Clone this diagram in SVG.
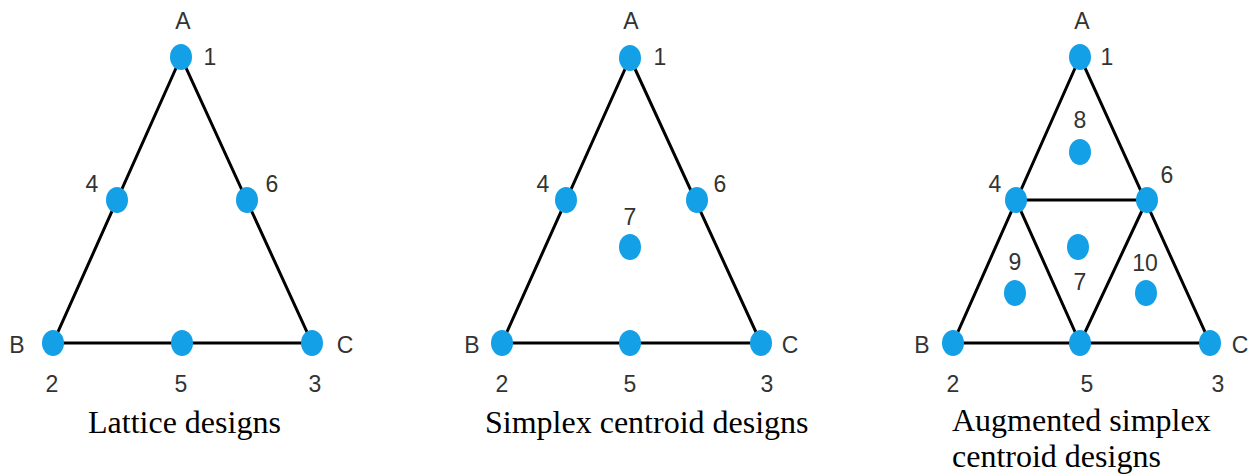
<svg xmlns="http://www.w3.org/2000/svg" width="1256" height="476" viewBox="0 0 1256 476">
<style>
.e{stroke:#000;stroke-width:3;fill:none}
.d{fill:#14a0e6}
.l{font-family:"Liberation Sans Narrow","Liberation Sans",Arial,sans-serif;font-size:23px;fill:#333;text-anchor:middle}
.t{font-family:"Liberation Serif","Times New Roman",serif;font-size:32px;fill:#000}
</style>
<rect width="1256" height="476" fill="#fff"/>
<g id="connectors">
<path class="e" d="M181,57 L53,343 L312,343 Z"/>
<path class="e" d="M630,58 L502,343 L761,343 Z"/>
<path class="e" d="M1080,57 L953,343 L1210,343 Z M1016,200 L1147,200 M1016,200 L1080,343 L1147,200"/>
</g>
<g id="lattice">
<g id="l1"><ellipse class="d" cx="181" cy="57" rx="11" ry="13"/><text class="l" x="183" y="29">A</text><text class="l" x="210" y="65">1</text></g>
<g id="l4"><ellipse class="d" cx="117" cy="200" rx="11" ry="13"/><text class="l" x="92" y="192">4</text></g>
<g id="l6"><ellipse class="d" cx="247" cy="200" rx="11" ry="13"/><text class="l" x="272" y="192">6</text></g>
<g id="l2"><ellipse class="d" cx="53" cy="343" rx="11" ry="13"/><text class="l" x="17" y="353">B</text><text class="l" x="52" y="392">2</text></g>
<g id="l5"><ellipse class="d" cx="182" cy="343" rx="11" ry="13"/><text class="l" x="181" y="392">5</text></g>
<g id="l3"><ellipse class="d" cx="312" cy="343" rx="11" ry="13"/><text class="l" x="345" y="353">C</text><text class="l" x="315" y="392">3</text></g>
<text class="t" x="88" y="433">Lattice designs</text>
</g>
<g id="simplex">
<g id="s1"><ellipse class="d" cx="630" cy="58" rx="11" ry="13"/><text class="l" x="631" y="29">A</text><text class="l" x="660" y="65">1</text></g>
<g id="s4"><ellipse class="d" cx="566" cy="200" rx="11" ry="13"/><text class="l" x="543" y="192">4</text></g>
<g id="s6"><ellipse class="d" cx="697" cy="200" rx="11" ry="13"/><text class="l" x="720" y="192">6</text></g>
<g id="s7"><ellipse class="d" cx="630" cy="247" rx="11" ry="13"/><text class="l" x="630" y="225">7</text></g>
<g id="s2"><ellipse class="d" cx="502" cy="343" rx="11" ry="13"/><text class="l" x="472" y="353">B</text><text class="l" x="502" y="392">2</text></g>
<g id="s5"><ellipse class="d" cx="630" cy="343" rx="11" ry="13"/><text class="l" x="630" y="392">5</text></g>
<g id="s3"><ellipse class="d" cx="761" cy="343" rx="11" ry="13"/><text class="l" x="790" y="353">C</text><text class="l" x="767" y="392">3</text></g>
<text class="t" x="485" y="433">Simplex centroid designs</text>
</g>
<g id="augmented">
<g id="a1"><ellipse class="d" cx="1080" cy="57" rx="11" ry="13"/><text class="l" x="1082" y="29">A</text><text class="l" x="1107" y="65">1</text></g>
<g id="a8"><ellipse class="d" cx="1080" cy="152" rx="11" ry="13"/><text class="l" x="1080" y="128">8</text></g>
<g id="a4"><ellipse class="d" cx="1016" cy="200" rx="11" ry="13"/><text class="l" x="995" y="192">4</text></g>
<g id="a6"><ellipse class="d" cx="1147" cy="200" rx="11" ry="13"/><text class="l" x="1167" y="183">6</text></g>
<g id="a7"><ellipse class="d" cx="1078" cy="247" rx="11" ry="13"/><text class="l" x="1080" y="290">7</text></g>
<g id="a9"><ellipse class="d" cx="1015" cy="293" rx="11" ry="13"/><text class="l" x="1015" y="270">9</text></g>
<g id="a10"><ellipse class="d" cx="1146" cy="293" rx="11" ry="13"/><text class="l" x="1145" y="271">10</text></g>
<g id="a2"><ellipse class="d" cx="953" cy="343" rx="11" ry="13"/><text class="l" x="922" y="353">B</text><text class="l" x="953" y="392">2</text></g>
<g id="a5"><ellipse class="d" cx="1080" cy="343" rx="11" ry="13"/><text class="l" x="1087" y="392">5</text></g>
<g id="a3"><ellipse class="d" cx="1210" cy="343" rx="11" ry="13"/><text class="l" x="1240" y="353">C</text><text class="l" x="1218" y="392">3</text></g>
<text class="t" x="952" y="431">Augmented simplex</text>
<text class="t" x="952" y="467">centroid designs</text>
</g>
</svg>
